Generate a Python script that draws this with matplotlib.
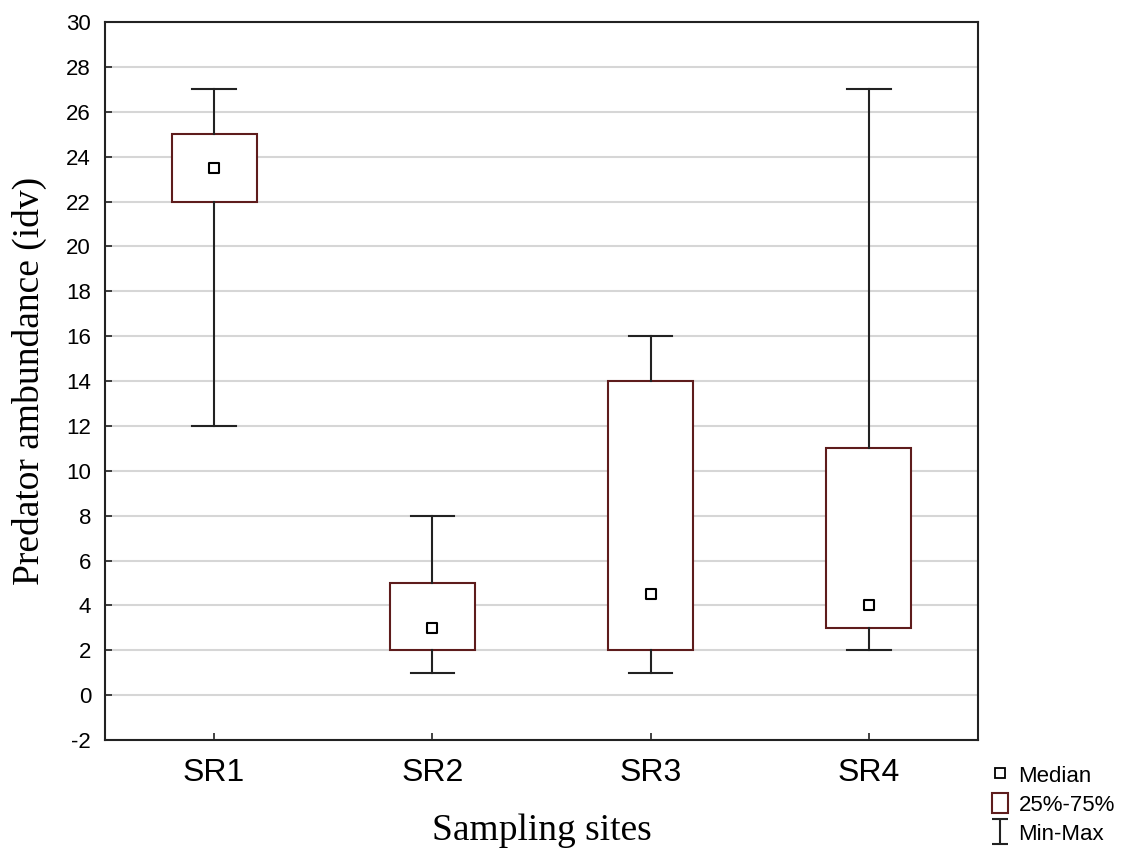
import matplotlib.pyplot as plt
from matplotlib.lines import Line2D
from matplotlib.patches import Patch
from matplotlib.path import Path

plt.rcParams["axes.unicode_minus"] = False

# data
sites = ["SR1", "SR2", "SR3", "SR4"]
mins = [12, 1, 1, 2]
q1 = [22, 2, 2, 3]
medians = [23.5, 3, 4.5, 4]
q3 = [25, 5, 14, 11]
maxs = [27, 8, 16, 27]

box_col = "#5e1c1c"
line_col = "#222222"

fig = plt.figure(figsize=(11.25, 8.52), dpi=100)
ax = fig.add_axes([0.0933, 0.1315, 0.776, 0.8425])

stats = []
for i in range(len(sites)):
    stats.append({"label": sites[i], "whislo": mins[i], "q1": q1[i], "med": medians[i],
                  "q3": q3[i], "whishi": maxs[i], "fliers": []})

pos = list(range(1, len(sites) + 1))
ax.bxp(stats, positions=pos, widths=0.39, showfliers=False, patch_artist=True,
       boxprops=dict(facecolor="white", edgecolor=box_col, linewidth=1.5),
       whiskerprops=dict(color=line_col, linewidth=1.5),
       capprops=dict(color=line_col, linewidth=1.5),
       medianprops=dict(visible=False), capwidths=0.2, zorder=3)
ax.scatter(pos, medians, marker="s", s=55, facecolor="white", edgecolor="black",
           linewidth=1.5, zorder=4)

ax.set_xlim(0.5, 4.5)
ax.set_ylim(-2, 30)
ax.set_yticks(range(-2, 31, 2))
ax.set_xticks(pos)
ax.set_xticklabels(sites, fontsize=23, family="Liberation Sans")
for t in ax.get_yticklabels():
    t.set_family("Liberation Sans")
    t.set_fontsize(16)
ax.tick_params(direction="in", length=5, width=1.2, color=line_col)
ax.tick_params(axis="y", pad=10)
ax.tick_params(axis="x", pad=13)
ax.yaxis.grid(True, color="#d6d6d6", linewidth=1.5)
ax.set_axisbelow(True)
for s in ax.spines.values():
    s.set_linewidth(1.5)
    s.set_color(line_col)

ax.set_ylabel("Predator ambundance (idv)", fontsize=27, family="Liberation Serif", labelpad=14)
ax.set_xlabel("Sampling sites", fontsize=27, family="Liberation Serif", labelpad=18)

# I-shaped symbol for the Min-Max entry
ibar = Path([(-0.64, 1), (0.64, 1), (0, 1), (0, -1), (-0.64, -1), (0.64, -1)],
            [Path.MOVETO, Path.LINETO, Path.MOVETO, Path.LINETO, Path.MOVETO, Path.LINETO])
handles = [
    Line2D([], [], linestyle="none", marker="s", markersize=7, markerfacecolor="white",
           markeredgecolor="black", markeredgewidth=1.3),
    Patch(facecolor="white", edgecolor=box_col, linewidth=1.5),
    Line2D([], [], linestyle="none", marker=ibar, markersize=18, markerfacecolor="none",
           markeredgecolor=line_col, markeredgewidth=1.5),
]
fig.legend(handles, ["Median", "25%-75%", "Min-Max"], loc="lower left",
           bbox_to_anchor=(0.882, 0.008), borderaxespad=0, borderpad=0, frameon=False,
           handlelength=0.73, handleheight=1.0, handletextpad=0.45, labelspacing=0.3,
           prop={"family": "Liberation Sans", "size": 16})

fig.savefig("out.png", dpi=100)
